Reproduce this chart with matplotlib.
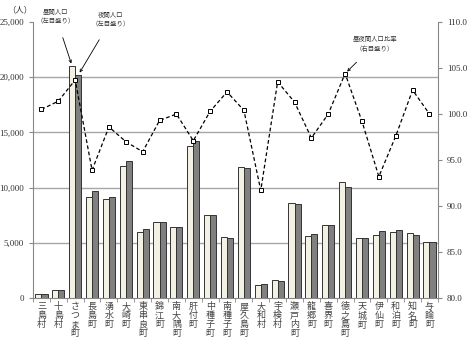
import numpy as np
import matplotlib.pyplot as plt

plt.rcParams['font.family'] = ['Noto Sans CJK JP', 'DejaVu Sans']

# municipalities, daytime / night-time population and day/night ratio
towns = ['三島村', '十島村', 'さつま町', '長島町', '湧水町', '大崎町', '東串良町', '錦江町',
         '南大隅町', '肝付町', '中種子町', '南種子町', '屋久島町', '大和村', '宇検村', '瀬戸内町',
         '龍郷町', '喜界町', '徳之島町', '天城町', '伊仙町', '和泊町', '知名町', '与論町']
day_pop = [380, 750, 21000, 9120, 8990, 12000, 5960, 6860,
           6460, 13800, 7520, 5560, 11880, 1200, 1620, 8630,
           5620, 6620, 10530, 5440, 5680, 6010, 5870, 5080]
night_pop = [370, 740, 20200, 9660, 9120, 12390, 6230, 6890,
             6430, 14200, 7520, 5420, 11820, 1320, 1560, 8480,
             5780, 6620, 10100, 5470, 6080, 6190, 5710, 5080]
ratio = [100.5, 101.4, 103.7, 93.9, 98.6, 97.0, 95.9, 99.3,
         100.0, 97.1, 100.3, 102.4, 100.4, 91.7, 103.5, 101.3,
         97.4, 100.0, 104.4, 99.2, 93.2, 97.6, 102.6, 100.0]

x = np.arange(len(towns))
w = 0.36

fig = plt.figure(figsize=(4.67, 3.38), dpi=100)
ax = fig.add_axes([0.0707, 0.118, 0.867, 0.817])

for g in [5000, 10000, 15000, 20000]:
    ax.axhline(g, color='#a6a6a6', lw=1, zorder=0)

ax.bar(x - w / 2, day_pop, w, color='#f3f1e3', edgecolor='#333333', lw=0.7, zorder=2)
ax.bar(x + w / 2, night_pop, w, color='#808080', edgecolor='#333333', lw=0.7, zorder=2)

ax.set_xlim(-0.5, len(towns) - 0.5)
ax.set_ylim(0, 25000)
ax.set_yticks(range(0, 25001, 5000))
ax.set_yticklabels([f'{v:,}' for v in range(0, 25001, 5000)],
                   family='Liberation Serif', fontsize=6.5)
ax.set_xticks(x)
ax.set_xticklabels(['\n'.join(t) for t in towns], fontsize=6.5, linespacing=1.0, color='#444444')
ax.set_xticks(np.arange(-0.5, len(towns), 1), minor=True)
ax.tick_params(axis='x', which='major', length=0, pad=3)
ax.tick_params(axis='x', which='minor', length=3, color='#888888')
ax.tick_params(axis='y', length=3, color='#888888', colors='#333333')
for s in ['top', 'right']:
    ax.spines[s].set_visible(False)
ax.spines['left'].set_color('#888888')
ax.spines['bottom'].set_color('#888888')

ax2 = ax.twinx()
ax2.plot(x, ratio, ls=(0, (3, 2)), color='black', lw=0.9, marker='s', ms=3.5,
         mfc='white', mec='black', mew=0.7, zorder=3)
ax2.set_ylim(80, 110)
ax2.set_yticks(np.arange(80, 110.1, 5))
ax2.set_yticklabels([f'{v:.1f}' for v in np.arange(80, 110.1, 5)],
                    family='Liberation Serif', fontsize=6.5)
ax2.tick_params(axis='y', length=3, color='#888888', colors='#333333')
ax2.spines['top'].set_visible(False)
ax2.spines['left'].set_visible(False)
ax2.spines['bottom'].set_visible(False)
ax2.spines['right'].set_color('#888888')

fig.text(20 / 467, 1 - 10 / 338, '（人）', fontsize=6, ha='center', va='center', color='#333333')

H = 338
arrow = dict(arrowstyle='->', color='black', lw=0.6)
ax.annotate('昼間人口\n（左目盛り）', xy=(2 - w / 2, day_pop[2]), xytext=(56, H - 17),
            textcoords='figure pixels', fontsize=4.6, ha='center', va='center',
            color='#333333', arrowprops=dict(arrow, shrinkA=7))
ax.annotate('夜間人口\n（左目盛り）', xy=(2 + w / 2, night_pop[2]), xytext=(111, H - 20),
            textcoords='figure pixels', fontsize=4.6, ha='center', va='center',
            color='#333333', arrowprops=dict(arrow, shrinkA=7))
ax2.annotate('昼夜間人口比率\n（右目盛り）', xy=(18, ratio[18]), xytext=(375, H - 44),
             textcoords='figure pixels', fontsize=4.6, ha='center', va='center',
             color='#333333', arrowprops=dict(arrow, shrinkA=7))

fig.savefig('out.png', dpi=100)
